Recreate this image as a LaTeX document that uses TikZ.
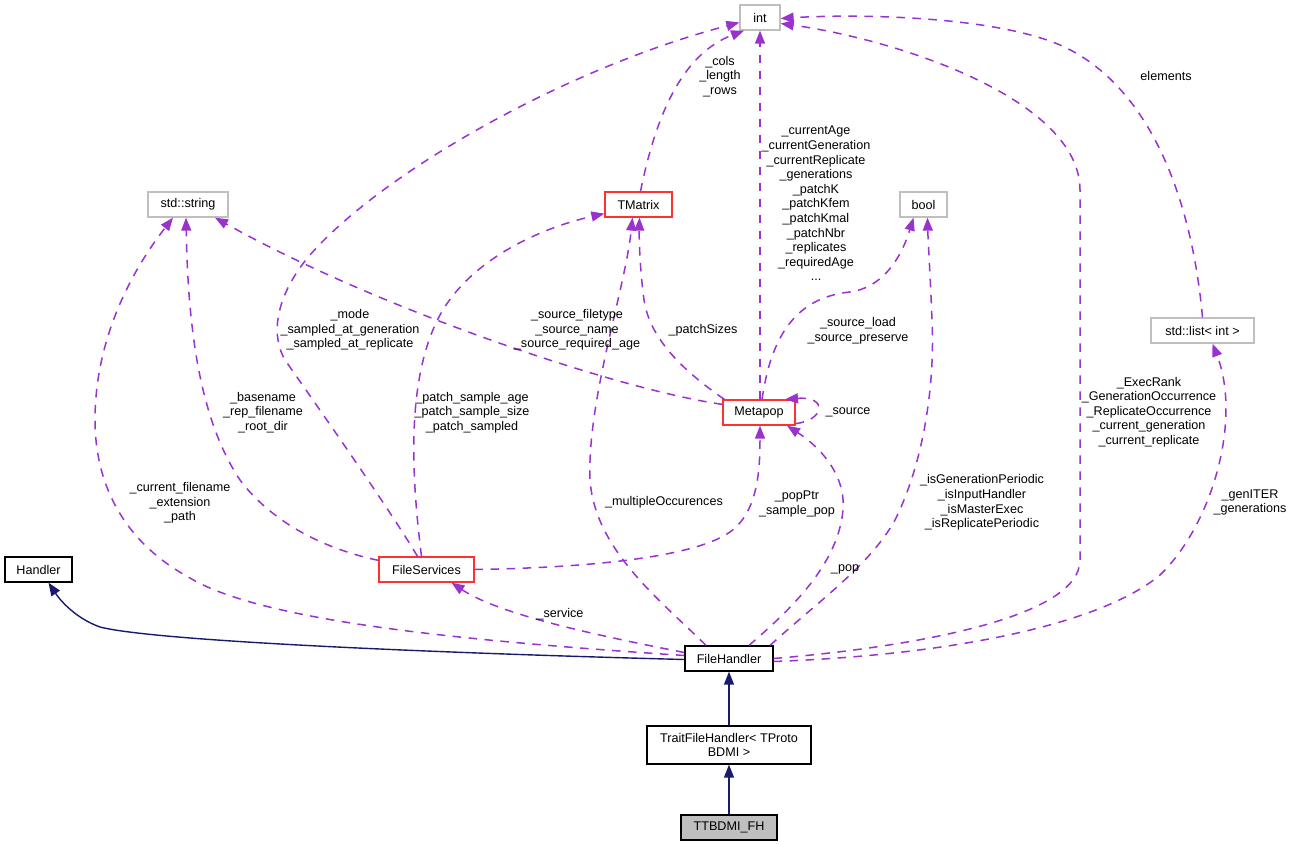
\documentclass[tikz,border=0pt]{standalone}
\usepackage{fontspec}
\setmainfont{Liberation Sans}
\usetikzlibrary{arrows.meta}
\definecolor{depc}{HTML}{9A32CD}
\definecolor{inhc}{HTML}{191970}
\definecolor{truncc}{HTML}{FF3030}
\definecolor{extc}{HTML}{BFBFBF}
\begin{document}
\begin{tikzpicture}[x=1pt,y=-1pt,
  font=\fontsize{12.6}{14.6}\selectfont,
  cls/.style={draw=black, line width=1.3pt, fill=white, inner sep=0pt, align=center, minimum height=25pt},
  extbox/.style={cls, draw=extc},
  trbox/.style={cls, draw=truncc},
  mainbox/.style={cls, fill=extc},
  lbl/.style={inner sep=0pt, align=center},
  dep/.style={draw=depc, line width=1.5pt, dash pattern=on 8.5pt off 7.5pt, -{Triangle[length=13pt,width=10pt]}},
  inh/.style={draw=inhc, line width=1.4pt, -{Triangle[length=13pt,width=10pt]}}]
\useasboundingbox (0,0) rectangle (1293,845);
% nodes
\node[extbox, minimum width=40pt] (int) at (760,17.5) {int};
\node[extbox, minimum width=80pt] (strg) at (188,204.5) {std::string};
\node[trbox, minimum width=67pt] (tmat) at (638.5,204.5) {TMatrix};
\node[extbox, minimum width=47pt] (bool) at (923.5,204.5) {bool};
\node[extbox, minimum width=103pt] (slist) at (1202.5,330.5) {std::list< int >};
\node[trbox, minimum width=72pt] (mpop) at (759,412.5) {Metapop};
\node[trbox, minimum width=95pt] (fsv) at (426.5,569.5) {FileServices};
\node[cls, minimum width=67pt] (hdl) at (38.5,569.5) {Handler};
\node[cls, minimum width=88pt] (fh) at (729,658.5) {FileHandler};
\node[cls, minimum width=164pt, minimum height=38pt] (tfh) at (729,745) {TraitFileHandler< TProto\\BDMI >};
\node[mainbox, minimum width=96pt] (ttb) at (729,827.5) {TTBDMI\_FH};
% inheritance
\draw[inh] ([yshift=-1pt]fh.west) .. controls (400,652) and (150,640) .. (100,627) .. controls (75,618) and (60,600) .. ([xshift=10pt]hdl.south);
\draw[inh] (tfh.north) -- (fh.south);
\draw[inh] (ttb.north) -- (tfh.south);
% dependencies
\draw[dep] ([yshift=3pt]fh.west) .. controls (450,640) and (260,620) .. (190,578) .. controls (120,540) and (95,480) .. (95,420) .. controls (95,330) and (140,260) .. ([xshift=-15pt]strg.south);
\draw[dep] ([yshift=-4pt]fsv.north west) .. controls (320,548) and (270,520) .. (240,480) .. controls (200,420) and (188,330) .. ([xshift=-2pt]strg.south);
\draw[dep] ([xshift=-9pt]fsv.north) .. controls (390,510) and (320,410) .. (285,360) .. controls (268,330) and (280,290) .. (310,255) .. controls (380,175) and (560,70) .. ([yshift=-5pt]int.west);
\draw[dep] ([xshift=-5pt]fsv.north) .. controls (412,480) and (405,380) .. (440,315) .. controls (470,260) and (540,228) .. ([yshift=4pt]tmat.south west);
\draw[dep] ([yshift=-5pt]mpop.north west) .. controls (620,390) and (380,310) .. ([xshift=27pt]strg.south);
\draw[dep] ([xshift=2pt]mpop.north west) .. controls (685,372) and (650,340) .. (644,300) .. controls (640,270) and (639,240) .. ([xshift=1pt]tmat.south);
\draw[dep] ([xshift=1pt]mpop.north) -- (int.south);
\draw[dep] ([xshift=3pt]mpop.north) .. controls (770,345) and (790,298) .. (850,292) .. controls (880,288) and (900,262) .. ([xshift=-10pt]bool.south);
\draw[dep] ([yshift=2pt]mpop.south east) .. controls (825,420) and (828,396) .. ([xshift=26pt]mpop.north);
\draw[dep] (fsv.east) .. controls (570,568) and (690,560) .. (730,532) .. controls (758,512) and (760,470) .. ([xshift=1pt]mpop.south);
\draw[dep] ([xshift=20pt]fh.north) .. controls (790,610) and (838,565) .. (843,510) .. controls (846,475) and (820,447) .. ([xshift=28pt]mpop.south);
\draw[dep] ([yshift=6pt]fh.west) .. controls (600,636) and (500,615) .. ([xshift=25pt]fsv.south);
\draw[dep] ([xshift=-23pt]fh.north) .. controls (660,600) and (595,550) .. (590,480) .. controls (587,400) and (625,290) .. ([xshift=-6pt]tmat.south);
\draw[dep] ([xshift=41pt]fh.north) .. controls (820,600) and (870,565) .. (895,520) .. controls (925,460) and (935,380) .. (932,320) .. controls (930,270) and (928,240) .. ([xshift=4pt]bool.south);
\draw[dep] (fh.east) .. controls (900,648) and (1080,620) .. (1080,560) -- (1080,190) .. controls (1080,100) and (900,40) .. ([yshift=-6pt]int.east);
\draw[dep] ([yshift=-3pt]fh.east) .. controls (950,655) and (1100,625) .. (1160,575) .. controls (1212,525) and (1242,420) .. ([xshift=10pt]slist.south);
\draw[dep] (slist.north) .. controls (1190,180) and (1140,80) .. (1060,45) .. controls (990,15) and (850,14) .. ([yshift=-1pt]int.east);
\draw[dep] ([xshift=2pt]tmat.north) .. controls (655,120) and (680,55) .. ([xshift=-16pt]int.south);
% labels
\node[lbl] (lcols) at (720,76.5) {\_cols\\\_length\\\_rows};
\node[lbl] (lcur) at (816,203.5) {\_currentAge\\\_currentGeneration\\\_currentReplicate\\\_generations\\\_patchK\\\_patchKfem\\\_patchKmal\\\_patchNbr\\\_replicates\\\_requiredAge\\...};
\node[lbl] (lelem) at (1166,76) {elements};
\node[lbl] (lmode) at (350,330) {\_mode\\\_sampled\_at\_generation\\\_sampled\_at\_replicate};
\node[lbl] (lsrc) at (577,330) {\_source\_filetype\\\_source\_name\\\_source\_required\_age};
\node[lbl] (lps) at (703,330) {\_patchSizes};
\node[lbl] (lload) at (858,330.5) {\_source\_load\\\_source\_preserve};
\node[lbl] (lsource) at (848,412) {\_source};
\node[lbl] (lbase) at (263,412.5) {\_basename\\\_rep\_filename\\\_root\_dir};
\node[lbl] (lpatch) at (472,412.5) {\_patch\_sample\_age\\\_patch\_sample\_size\\\_patch\_sampled};
\node[lbl] (lcf) at (180,503) {\_current\_filename\\\_extension\\\_path};
\node[lbl] (lmo) at (664,502) {\_multipleOccurences};
\node[lbl] (lpp) at (797,504) {\_popPtr\\\_sample\_pop};
\node[lbl] (lis) at (982,502.5) {\_isGenerationPeriodic\\\_isInputHandler\\\_isMasterExec\\\_isReplicatePeriodic};
\node[lbl] (lexec) at (1149,412) {\_ExecRank\\\_GenerationOccurrence\\\_ReplicateOccurrence\\\_current\_generation\\\_current\_replicate};
\node[lbl] (lgen) at (1250,502.5) {\_genITER\\\_generations};
\node[lbl] (lserv) at (560,614) {\_service};
\node[lbl] (lpop) at (845,569) {\_pop};
\end{tikzpicture}
\end{document}
